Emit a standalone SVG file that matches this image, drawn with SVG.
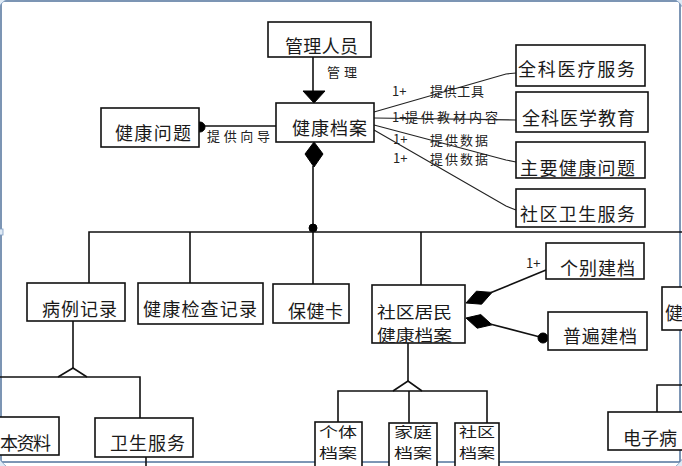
<svg xmlns="http://www.w3.org/2000/svg" width="682" height="466" viewBox="0 0 682 466">
<style>
.box{fill:#fff;stroke:#111;stroke-width:1.6}
.t{font-family:"Noto Sans CJK SC","Noto Sans",sans-serif;font-size:18px;fill:#1a1a1a}
.m{font-family:"Noto Sans CJK SC","Noto Sans",sans-serif;font-size:15.5px;fill:#1a1a1a}
.s{font-family:"Noto Sans CJK SC","Noto Sans",sans-serif;font-size:14px;fill:#1a1a1a}
.l{font-family:"Noto Sans CJK SC","Noto Sans",sans-serif;font-size:13px;fill:#222}
.c{fill:none;stroke:#111;stroke-width:1.6}
.thin{fill:none;stroke:#222;stroke-width:1.1}
.f{fill:#000;stroke:#000;stroke-width:1}
.h{fill:#dfeaf5;stroke:#7d9cc0;stroke-width:0.8}
</style>
<rect x="0" y="0" width="682" height="466" fill="#fff"/>
<g id="frame">
<rect x="1" y="1" width="679" height="461" fill="none" stroke="#52739c" stroke-width="1.5"/>
<rect class="h" x="-2" y="229" width="5" height="6"/>
<rect class="h" x="338" y="460" width="6" height="5"/>
<path class="h" d="M-1,8 Q1,2 8,-1 L-1,-1 Z"/>
<path class="h" d="M674,-1 Q680,2 683,8 L683,-1 Z"/>
<path class="h" d="M-1,458 Q2,463 7,467 L-1,467 Z"/>
<path class="h" d="M683,458 Q680,463 675,467 L683,467 Z"/>
</g>
<g id="connectors">
<line class="c" x1="313" y1="57" x2="313" y2="92"/>
<polygon class="f" points="303,91 325,91 314,103"/>
<line class="c" x1="199" y1="126" x2="276" y2="126"/>
<circle class="f" cx="200" cy="127" r="5"/>
<polyline class="thin" points="374,112 506,74 516,73"/>
<polyline class="thin" points="374,118 516,120"/>
<polyline class="thin" points="374,125 506,160 516,162"/>
<polyline class="thin" points="374,130 506,206 516,210"/>
<polygon class="f" points="314,142 323,154 314,167 305,154"/>
<line class="c" x1="313" y1="166" x2="313" y2="284"/>
<circle class="f" cx="313" cy="228" r="4"/>
<polyline class="c" points="89,283 89,232 682,232"/>
<line class="c" x1="190" y1="232" x2="190" y2="283"/>
<line class="c" x1="421" y1="232" x2="421" y2="285"/>
<polygon class="f" points="466,303 481.6,304.2 492,292.4 476.4,291.2"/>
<line class="c" x1="490" y1="293" x2="546" y2="270"/>
<polygon class="f" points="466,318 477.2,328.2 492,324.8 480.8,314.6"/>
<line class="c" x1="490" y1="324" x2="540" y2="337"/>
<circle class="f" cx="543" cy="338" r="5"/>
<line class="c" x1="73" y1="321" x2="73" y2="369"/>
<path class="c" d="M58,377 L73,368 L87,377"/>
<polyline class="c" points="0,377 140,377 140,418"/>
<line class="c" x1="146" y1="457" x2="146" y2="466"/>
<line class="c" x1="408" y1="343" x2="408" y2="382"/>
<path class="c" d="M393,391 L408,381 L422,391"/>
<polyline class="c" points="338,422 338,391 487,391 487,423"/>
<line class="c" x1="409" y1="391" x2="409" y2="423"/>
<polyline class="c" points="682,385 657,385 657,412"/>
</g>
<g id="labels">
<text class="l" x="327" y="77" textLength="30">管理</text>
<text class="l" x="207" y="141" font-size="14" textLength="63">提供向导</text>
<text class="l" x="392" y="96" font-size="11">1+</text>
<text class="l" x="430" y="96" textLength="54">提供工具</text>
<text class="l" x="392" y="122" font-size="11">1+</text>
<text class="l" x="405" y="122" textLength="93">提供教材内容</text>
<text class="l" x="393" y="144" font-size="11">1+</text>
<text class="l" x="430" y="145" textLength="58">提供数据</text>
<text class="l" x="393" y="163" font-size="11">1+</text>
<text class="l" x="430" y="164" textLength="58">提供数据</text>
<text class="l" x="526" y="268" font-size="12">1+</text>
</g>
<g id="n-guanli"><rect class="box" x="268" y="22" width="103" height="35"/><text class="t" x="285" y="53" textLength="73">管理人员</text></g>
<g id="n-jkda"><rect class="box" x="276" y="103" width="98" height="39"/><text class="t" x="292" y="135" textLength="75">健康档案</text></g>
<g id="n-jkwt"><rect class="box" x="101" y="108" width="98" height="39"/><text class="t" x="115" y="140" textLength="76">健康问题</text></g>
<g id="n-qkylfw"><rect class="box" x="516" y="45" width="129" height="41"/><text class="t" x="518" y="76" textLength="117">全科医疗服务</text></g>
<g id="n-qkyxjy"><rect class="box" x="516" y="92" width="132" height="40" stroke-width="2.2"/><text class="t" x="522" y="125" textLength="113">全科医学教育</text></g>
<g id="n-zyjkwt"><rect class="box" x="516" y="142" width="129" height="36"/><text class="t" x="520" y="175" textLength="115">主要健康问题</text></g>
<g id="n-sqwsfw"><rect class="box" x="516" y="189" width="129" height="38"/><text class="t" x="520" y="221" textLength="115">社区卫生服务</text></g>
<g id="n-blj"><rect class="box" x="27" y="283" width="98" height="38"/><text class="t" x="42" y="316" textLength="75">病例记录</text></g>
<g id="n-jkjcjl"><rect class="box" x="138" y="283" width="125" height="41"/><text class="t" x="143" y="316" textLength="114">健康检查记录</text></g>
<g id="n-bjk"><rect class="box" x="273" y="284" width="76" height="39"/><text class="t" x="288" y="318" textLength="55">保健卡</text></g>
<g id="n-sqjm"><rect class="box" x="372" y="285" width="93" height="58"/><text class="m" x="377" y="318" textLength="75" lengthAdjust="spacingAndGlyphs">社区居民</text><text class="m" x="377" y="341" textLength="75" lengthAdjust="spacingAndGlyphs">健康档案</text></g>
<g id="n-gbjd"><rect class="box" x="546" y="243" width="98" height="36"/><text class="t" x="560" y="275" textLength="75">个别建档</text></g>
<g id="n-pbjd"><rect class="box" x="548" y="312" width="99" height="38"/><text class="t" x="563" y="343" textLength="74">普遍建档</text></g>
<g id="n-jian"><rect class="box" x="662" y="287" width="30" height="43"/><text class="t" x="665" y="320">健</text></g>
<g id="n-bzl"><rect class="box" x="-5" y="417" width="64" height="38"/><text class="t" x="0" y="450" textLength="51">本资料</text></g>
<g id="n-wsfw"><rect class="box" x="95" y="418" width="98" height="39"/><text class="t" x="110" y="450" textLength="75">卫生服务</text></g>
<g id="n-gtda"><rect class="box" x="315" y="422" width="47" height="45"/><text class="s" x="319" y="437" textLength="38" lengthAdjust="spacingAndGlyphs">个体</text><text class="s" x="319" y="458" textLength="38" lengthAdjust="spacingAndGlyphs">档案</text></g>
<g id="n-jtda"><rect class="box" x="389" y="423" width="48" height="44"/><text class="s" x="394" y="437" textLength="38" lengthAdjust="spacingAndGlyphs">家庭</text><text class="s" x="394" y="458" textLength="38" lengthAdjust="spacingAndGlyphs">档案</text></g>
<g id="n-sqda"><rect class="box" x="455" y="423" width="44" height="44"/><text class="s" x="459" y="437" textLength="36" lengthAdjust="spacingAndGlyphs">社区</text><text class="s" x="459" y="458" textLength="36" lengthAdjust="spacingAndGlyphs">档案</text></g>
<g id="n-dzbl"><rect class="box" x="608" y="412" width="90" height="38"/><text class="t" x="623" y="445">电子病</text></g>
</svg>
